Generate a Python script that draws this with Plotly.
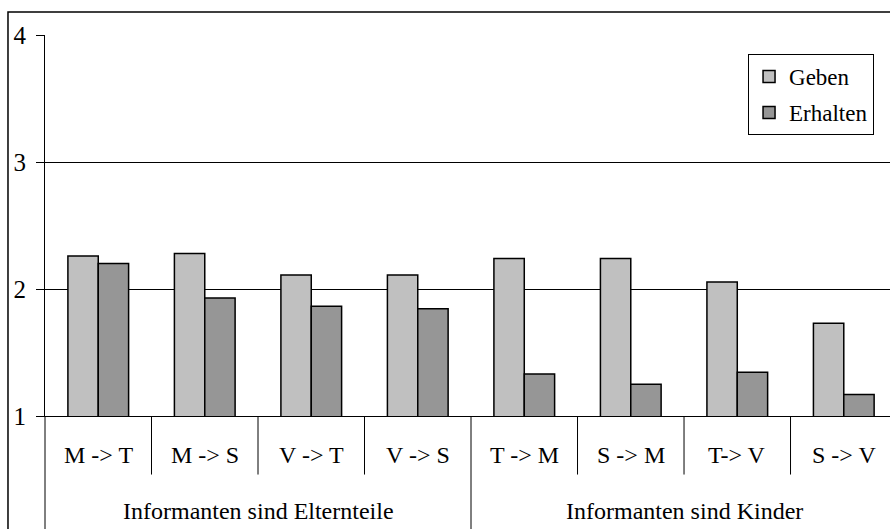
import plotly.graph_objects as go

categories = ["M -> T", "M -> S", "V -> T", "V -> S", "T -> M", "S -> M", "T-> V", "S -> V"]
groups = ["Informanten sind Elternteile", "Informanten sind Kinder"]
geben = [2.26, 2.28, 2.11, 2.11, 2.24, 2.24, 2.055, 1.73]
erhalten = [2.20, 1.93, 1.865, 1.845, 1.33, 1.25, 1.345, 1.17]
y_ticks = [1, 2, 3, 4]

FONT = "Liberation Serif"
x_idx = list(range(len(categories)))

fig = go.Figure()
fig.add_trace(go.Bar(x=x_idx, y=geben, name="Geben", legendgroup="g",
                     marker=dict(color="#c0c0c0", line=dict(color="black", width=1.5))))
fig.add_trace(go.Bar(x=x_idx, y=erhalten, name="Erhalten", legendgroup="e",
                     marker=dict(color="#969696", line=dict(color="black", width=1.5))))

H_PLOT = 380.7
def py(px_below):
    return -px_below / H_PLOT

shapes = []
# outer chart border (cropped at right/bottom)
shapes.append(dict(type="rect", xref="paper", yref="paper", x0=-0.0438, x1=1.2,
                   y0=-0.6, y1=1.0604, line=dict(color="black", width=1.5)))
# left axis extension
shapes.append(dict(type="line", xref="paper", yref="paper", x0=0, x1=0, y0=0, y1=-0.6,
                   line=dict(color="black", width=1)))
for i in range(1, len(categories)):
    xb = i - 0.5
    long = (i == 4)
    shapes.append(dict(type="line", xref="x", yref="paper", x0=xb, x1=xb,
                       y0=0, y1=(-0.6 if long else py(58.5)),
                       line=dict(color="black", width=1)))

annotations = []
for i, c in enumerate(categories):
    annotations.append(dict(x=i, y=py(39), xref="x", yref="paper", text=c, showarrow=False,
                            font=dict(family=FONT, size=24, color="black"),
                            xanchor="center", yanchor="middle"))
for gi, g in enumerate(groups):
    annotations.append(dict(x=1.5 + 4 * gi, y=py(95), xref="x", yref="paper", text=g,
                            showarrow=False, font=dict(family=FONT, size=24, color="black"),
                            xanchor="center", yanchor="middle"))

fig.update_layout(
    width=890, height=529,
    margin=dict(l=45, r=0, t=35, b=113.3),
    plot_bgcolor="white", paper_bgcolor="white",
    barmode="group", bargap=0.43, bargroupgap=0,
    font=dict(family=FONT, size=22, color="black"),
    showlegend=True,
    legend=dict(x=0.832, y=0.95, xanchor="left", yanchor="top",
                bordercolor="black", borderwidth=1, bgcolor="white",
                font=dict(family=FONT, size=23, color="black"),
                tracegroupgap=3, itemwidth=30),
    xaxis=dict(range=[-0.5, 7.434], showticklabels=False, ticks="", showgrid=False,
               showline=True, linecolor="black", linewidth=1, zeroline=False, fixedrange=True),
    yaxis=dict(range=[1, 4], tickvals=y_ticks, ticks="outside", ticklen=8, tickcolor="black",
               showgrid=True, gridcolor="black", gridwidth=1, showline=True,
               linecolor="black", linewidth=1, zeroline=False,
               tickfont=dict(family=FONT, size=25, color="black"), ticklabelstandoff=5),
    shapes=shapes,
    annotations=annotations,
)

fig.write_html("out.html", config={"displayModeBar": False},
               post_script="document.body.style.margin='0';document.body.style.overflow='hidden';")
